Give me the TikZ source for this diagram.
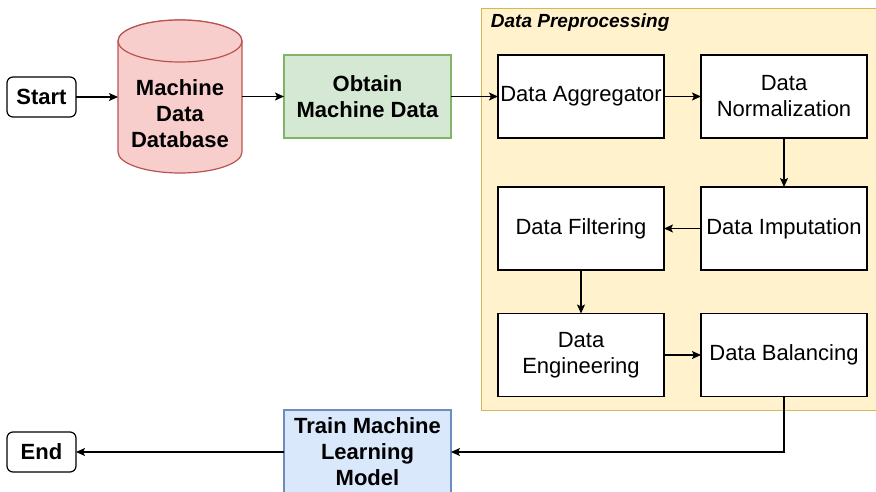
\documentclass[tikz,border=0pt]{standalone}
\usepackage{fontspec}
\setmainfont{Liberation Sans}
\usetikzlibrary{arrows.meta}
\definecolor{dbfill}{HTML}{F8CECC}
\definecolor{dbline}{HTML}{B85450}
\definecolor{obtfill}{HTML}{D5E8D4}
\definecolor{obtline}{HTML}{82B366}
\definecolor{trainfill}{HTML}{DAE8FC}
\definecolor{trainline}{HTML}{6C8EBF}
\definecolor{prepfill}{HTML}{FFF2CC}
\definecolor{prepline}{HTML}{D6B656}

\begin{document}
\begin{tikzpicture}[x=1pt, y=-1pt, line width=1.2pt,
  txt/.style={font=\fontsize{22}{26}\selectfont, align=center, inner sep=0pt, outer sep=0pt},
  boldtxt/.style={txt, font=\fontsize{22}{26}\selectfont\bfseries},
  stepbox/.style={txt, draw=black, fill=white, minimum width=166pt, minimum height=83pt},
  termbox/.style={boldtxt, draw=black, fill=white, rounded corners=6pt, minimum width=69pt, minimum height=40pt},
  flow/.style={-{Stealth[length=9pt, width=8pt, inset=2pt]}},
]
  \useasboundingbox (0,0) rectangle (876,492);
  \clip (0,0) rectangle (876,492);
  % Data Preprocessing group
  \node[draw=prepline, fill=prepfill, minimum width=397pt, minimum height=402pt,
    anchor=north west, inner sep=0pt] (prep) at (481,8) {};
  \node[anchor=west, font=\fontsize{19}{22}\selectfont\bfseries\itshape] (preptitle) at (487,22.5) {Data Preprocessing};

  \node[termbox] (start) at (41.5,97) {Start};
  \node[termbox] (end) at (41.5,452) {End};

  \filldraw[draw=dbline, fill=dbfill] (118,41) -- (118,152)
    arc[start angle=180, end angle=360, x radius=62pt, y radius=21pt] -- (242,41)
    arc[start angle=0, end angle=180, x radius=62pt, y radius=21pt] -- cycle;
  \draw[draw=dbline, fill=dbfill] (180,41) ellipse [x radius=62pt, y radius=21pt];
  \node[boldtxt, minimum width=124pt] (db) at (180,114) {Machine\\Data\\Database};

  \node[stepbox, boldtxt, draw=obtline, fill=obtfill, minimum width=167pt] (obtain) at (367.5,96.5) {Obtain\\Machine Data};
  \node[stepbox] (agg) at (581,96.5) {Data Aggregator};
  \node[stepbox] (norm) at (784,96.5) {Data\\Normalization};
  \node[stepbox] (imp) at (784,228.5) {Data Imputation};
  \node[stepbox] (filt) at (581,228.5) {Data Filtering};
  \node[stepbox] (eng) at (581,355) {Data\\Engineering};
  \node[stepbox] (bal) at (784,355) {Data Balancing};
  \node[stepbox, boldtxt, draw=trainline, fill=trainfill, minimum width=167pt, minimum height=84pt] (train) at (367.5,452) {Train Machine\\Learning\\Model};

  \draw[flow] (start) -- (start -| db.west);
  \draw[flow] (db.east |- obtain) -- (obtain);
  \draw[flow] (obtain) -- (agg);
  \draw[flow] (agg) -- (norm);
  \draw[flow] (norm) -- (imp);
  \draw[flow] (imp) -- (filt);
  \draw[flow] (filt) -- (eng);
  \draw[flow] (eng) -- (bal);
  \draw[flow] (bal.south) |- (train.east);
  \draw[flow] (train) -- (end);
\end{tikzpicture}
\end{document}
